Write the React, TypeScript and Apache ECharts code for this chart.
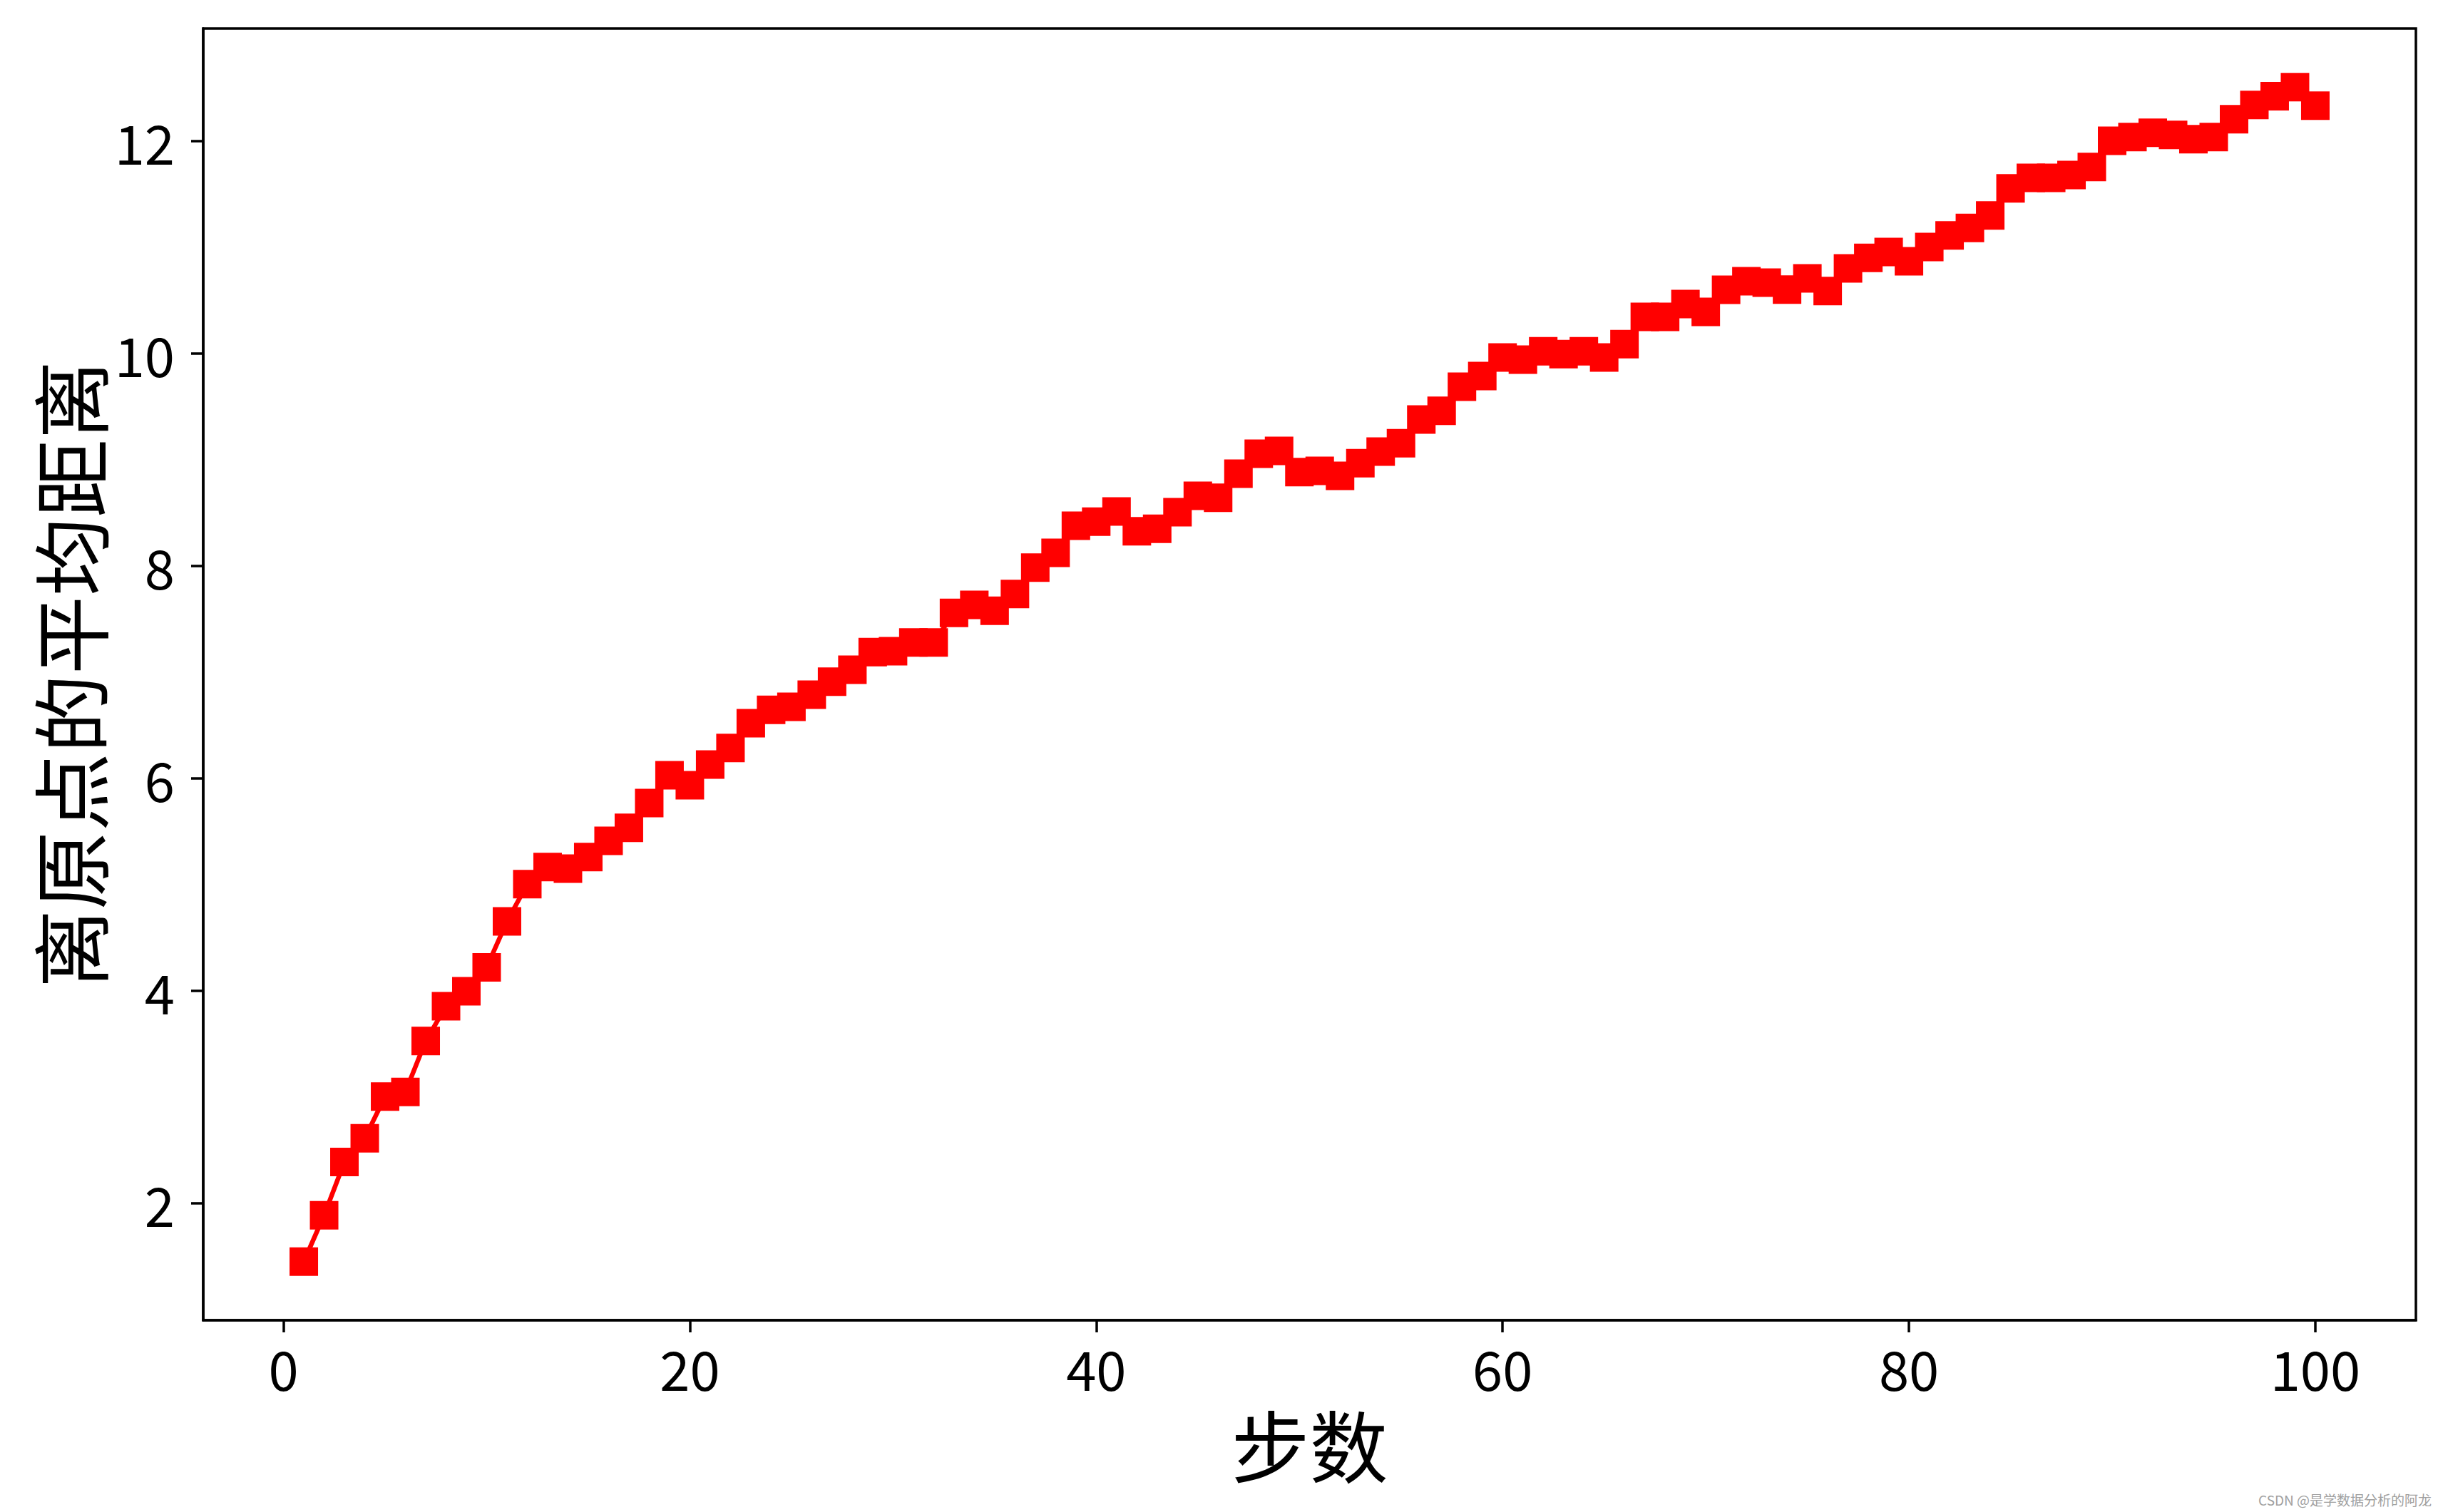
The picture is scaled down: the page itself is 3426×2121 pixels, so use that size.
import React, { useEffect, useRef } from "react";
import * as echarts from "echarts";

const steps: number[] = Array.from({ length: 100 }, (_, i) => i + 1);
const meanDistance: number[] = [
  1.45, 1.886, 2.387, 2.611, 3.003, 3.047, 3.526, 3.854, 3.995, 4.22,
  4.652, 5.003, 5.164, 5.148, 5.257, 5.411, 5.533, 5.766, 6.028, 5.934,
  6.128, 6.284, 6.518, 6.644, 6.672, 6.787, 6.908, 7.021, 7.188, 7.195,
  7.277, 7.277, 7.557, 7.632, 7.577, 7.734, 7.982, 8.121, 8.376, 8.416,
  8.511, 8.324, 8.349, 8.504, 8.658, 8.64, 8.866, 9.054, 9.081, 8.881,
  8.893, 8.846, 8.966, 9.075, 9.154, 9.376, 9.459, 9.685, 9.786, 9.96,
  9.941, 10.02, 9.993, 10.02, 9.96, 10.087, 10.343, 10.343, 10.464, 10.39,
  10.598, 10.679, 10.666, 10.6, 10.705, 10.586, 10.799, 10.899, 10.953, 10.866,
  11.0, 11.11, 11.181, 11.298, 11.553, 11.651, 11.651, 11.679, 11.754, 12.0,
  12.036, 12.076, 12.056, 12.016, 12.036, 12.203, 12.338, 12.42, 12.505, 12.331,
];
const xTicks: number[] = [0, 20, 40, 60, 80, 100];
const yTicks: number[] = [2, 4, 6, 8, 10, 12];
const xLabel = "步数";
const yLabel = "离原点的平均距离";
const watermark = "CSDN @是学数据分析的阿龙";

const FONT = "'Noto Sans CJK SC', 'Noto Sans', sans-serif";

export default function App() {
  const ref = useRef<HTMLDivElement>(null);
  useEffect(() => {
    if (!ref.current) return;
    const chart = echarts.init(ref.current, null, { renderer: "svg" });
    const xmin = 1, xmax = 100;
    const xr = xmax - xmin;
    const ymin = Math.min(...meanDistance), ymax = Math.max(...meanDistance);
    const yr = ymax - ymin;
    const axisLine = { show: true, onZero: false, lineStyle: { color: "#000", width: 3.5 } };
    chart.setOption({
      animation: false,
      backgroundColor: "#fff",
      grid: {
        left: 285,
        right: 38,
        top: 40,
        bottom: 269,
        show: true,
        borderColor: "#000",
        borderWidth: 3.5,
        backgroundColor: "transparent",
      },
      xAxis: {
        type: "value",
        min: xmin - 0.05 * xr,
        max: xmax + 0.05 * xr,
        axisLine,
        splitLine: { show: false },
        axisTick: {
          show: true,
          length: 17,
          lineStyle: { color: "#000", width: 3.5 },
          customValues: xTicks,
        },
        axisLabel: {
          customValues: xTicks,
          color: "#000",
          fontSize: 76,
          fontFamily: FONT,
          margin: 28,
        },
        name: xLabel,
        nameLocation: "middle",
        nameGap: 117,
        nameTextStyle: { color: "#000", fontSize: 110, fontFamily: FONT },
      },
      yAxis: {
        type: "value",
        min: ymin - 0.05 * yr,
        max: ymax + 0.05 * yr,
        axisLine,
        splitLine: { show: false },
        axisTick: {
          show: true,
          length: 17,
          lineStyle: { color: "#000", width: 3.5 },
          customValues: yTicks,
        },
        axisLabel: {
          customValues: yTicks,
          color: "#000",
          fontSize: 76,
          fontFamily: FONT,
          margin: 40,
        },
        name: yLabel,
        nameLocation: "middle",
        nameGap: 128,
        nameRotate: 90,
        nameTextStyle: { color: "#000", fontSize: 110, fontFamily: FONT },
      },
      graphic: [
        {
          type: "text",
          right: 16,
          bottom: 8,
          style: {
            text: watermark,
            fill: "#a0a0a0",
            fontSize: 19,
            fontFamily: FONT,
          },
        },
      ],
      series: [
        {
          type: "line",
          data: steps.map((s, i) => [s, meanDistance[i]]),
          symbol: "rect",
          symbolSize: 40,
          showAllSymbol: true,
          itemStyle: { color: "#ff0000" },
          lineStyle: { color: "#ff0000", width: 6.5 },
        },
      ],
    });
    return () => chart.dispose();
  }, []);
  return (
    <div
      ref={ref}
      style={{ position: "fixed", left: 0, top: 0, width: 3426, height: 2121 }}
    />
  );
}
